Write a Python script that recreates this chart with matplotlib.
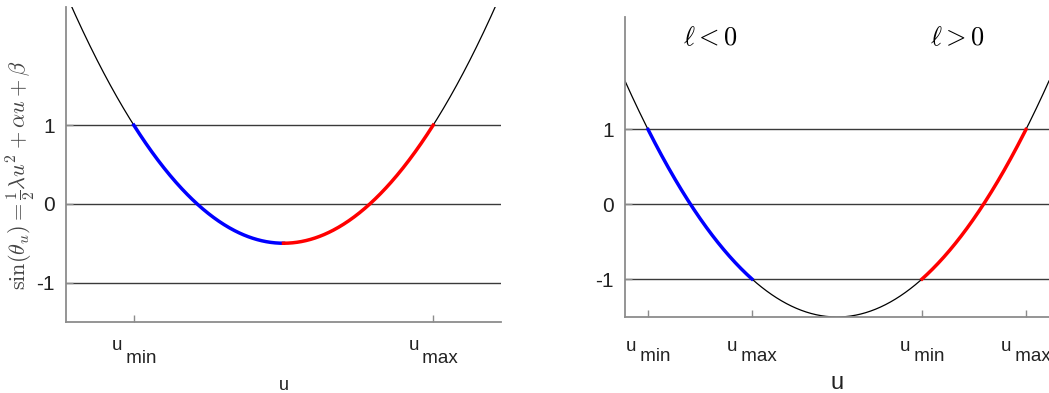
import numpy as np
import matplotlib.pyplot as plt

plt.rcParams['font.family'] = ['Liberation Sans', 'DejaVu Sans']

# parabola coefficients: y = c0 + c2 * u^2
left_c0, left_c2 = -0.5, 1.5
right_c0, right_c2 = -1.5, 2.5

# tick labels written MATLAB style: "u" with a big, low subscript
U_MIN = 'u\n  \u2009min'
U_MAX = 'u\n  \u2009max'
left_xticks = [-1.0, 1.0]
left_xticklabels = [U_MIN, U_MAX]
right_xticks = [-1.0, -0.45, 0.45, 1.0]
right_xticklabels = [U_MIN, U_MAX, U_MIN, U_MAX]
yticks = [-1, 0, 1]
yticklabels = ['-1', '0', '1']

# coloured segments (u ranges)
left_blue = (-1.0, 0.0)
left_red = (0.0, 1.0)
right_blue = (-1.0, -0.45)
right_red = (0.45, 1.0)

SPINE = '#8c8c8c'
HLINE = '#3a3a3a'
TXT = '#222222'


def parab(u, c0, c2):
    return c0 + c2 * u ** 2


def style_axes(ax, xlim, xticks, xticklabels, spacing, pad, xlabel_size, xlabel_pad):
    ax.set_xlim(*xlim)
    ax.set_ylim(-1.5, 2.5)
    for s in ['top', 'right']:
        ax.spines[s].set_visible(False)
    for s in ['left', 'bottom']:
        ax.spines[s].set_color(SPINE)
        ax.spines[s].set_linewidth(1.3)
    for y in yticks:
        ax.axhline(y, color=HLINE, lw=1.0, zorder=1)
    ax.set_yticks(yticks)
    ax.set_yticklabels(yticklabels, fontsize=15, color=TXT)
    ax.set_xticks(xticks)
    ax.set_xticklabels(xticklabels, fontsize=13.5, color=TXT,
                       multialignment='left', linespacing=spacing)
    ax.tick_params(axis='both', direction='in', length=5, color=SPINE, width=1.0)
    ax.tick_params(axis='x', pad=pad)
    ax.tick_params(axis='y', pad=8)
    ax.set_xlabel('u', fontsize=xlabel_size, color=TXT, labelpad=xlabel_pad)


fig = plt.figure(figsize=(10.49, 3.93), dpi=100)

# left panel
ax1 = fig.add_axes([0.0629, 0.1807, 0.4147, 0.8015])
style_axes(ax1, (-1.453, 1.453), left_xticks, left_xticklabels, 0.68, 11, 13, 7)
u = np.linspace(-1.453, 1.453, 600)
ax1.plot(u, parab(u, left_c0, left_c2), color='black', lw=0.9, zorder=2)
ub = np.linspace(*left_blue, 200)
ax1.plot(ub, parab(ub, left_c0, left_c2), color='#0000ff', lw=2.5, zorder=3)
ur = np.linspace(*left_red, 200)
ax1.plot(ur, parab(ur, left_c0, left_c2), color='#ff0000', lw=2.5, zorder=3)
ax1.set_ylabel(r'$\sin(\theta_u) = \frac{1}{2}\lambda u^2 + \alpha u + \beta$',
               fontsize=16, color='#444444', math_fontfamily='cm', va='center')
ax1.yaxis.set_label_coords(-0.103, 0.467)

# right panel
ax2 = fig.add_axes([0.5958, 0.1934, 0.4042, 0.7634])
style_axes(ax2, (-1.122, 1.122), right_xticks, right_xticklabels, 0.5, 15, 17, 5)
u = np.linspace(-1.122, 1.122, 600)
ax2.plot(u, parab(u, right_c0, right_c2), color='black', lw=0.9, zorder=2)
ub = np.linspace(*right_blue, 200)
ax2.plot(ub, parab(ub, right_c0, right_c2), color='#0000ff', lw=2.5, zorder=3)
ur = np.linspace(*right_red, 200)
ax2.plot(ur, parab(ur, right_c0, right_c2), color='#ff0000', lw=2.5, zorder=3)
ax2.text(-0.67, 2.22, r'$\ell < 0$', fontsize=19, math_fontfamily='cm',
         ha='center', va='center')
ax2.text(0.64, 2.22, r'$\ell > 0$', fontsize=19, math_fontfamily='cm',
         ha='center', va='center')

fig.savefig('out.png', dpi=100)
